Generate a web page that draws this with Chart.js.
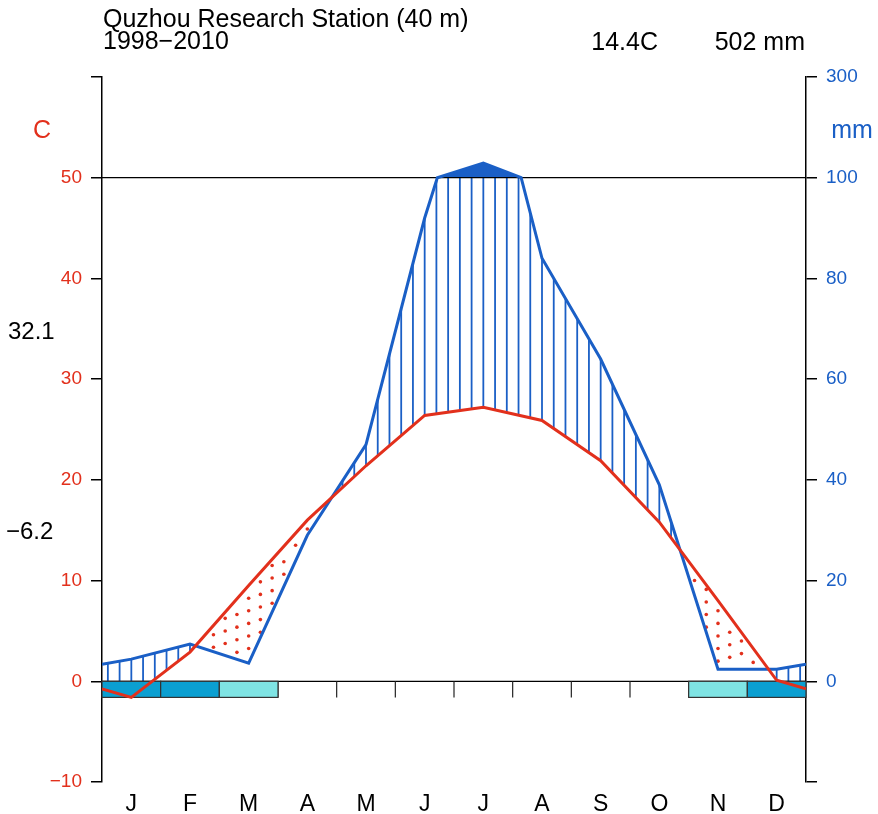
<!DOCTYPE html>
<html>
<head>
  <meta charset="utf-8">
  <title>Quzhou climate diagram</title>
  <script src="https://cdn.jsdelivr.net/npm/chart.js"></script>
  <style>
    body { margin: 0; background: #fff; }
    canvas { display: block; }
  </style>
</head>
<body>
<canvas id="climChart" width="878" height="814"></canvas>

<script>
// monthly values
const months = ['J', 'F', 'M', 'A', 'M', 'J', 'J', 'A', 'S', 'O', 'N', 'D'];
const temp = [-1.6, 2.9, 9.5, 16.0, 21.4, 26.4, 27.2, 25.9, 21.9, 15.8, 8.0, 0.1];
const prec = [4.4, 7.4, 3.6, 29, 47, 92, 129, 84, 64, 39, 2.4, 2.4];
// 2 = sure frost, 1 = probable frost
const frost = [2, 2, 1, 0, 0, 0, 0, 0, 0, 0, 1, 2];
const tempTicks = [-10, 0, 10, 20, 30, 40, 50, 60];
const precTicks = [-10, 0, 10, 20, 30, 40, 50, 60];

const RED = '#e2301c';
const BLUE = '#1a5fc6';
const FONT = '"Liberation Sans", Arial, sans-serif';

// precipitation -> temperature axis units (2 mm per C, above 100 mm 20 mm per C)
function tr(p) {
  return p <= 100 ? p / 2 : 50 + (p - 100) / 20;
}

// x positions: edges + month centres, edge value = mean of Dec and Jan
const xs = [0].concat(months.map((m, i) => i + 0.5), [12]);
const tEdge = (temp[0] + temp[11]) / 2;
const pEdge = (prec[0] + prec[11]) / 2;
const tVals = [tEdge].concat(temp, [tEdge]);
const pVals = [pEdge].concat(prec, [pEdge]);

function interp(vals, xv) {
  for (let i = 0; i < xs.length - 1; i++) {
    if (xv >= xs[i] && xv <= xs[i + 1]) {
      const f = (xv - xs[i]) / (xs[i + 1] - xs[i]);
      return vals[i] + f * (vals[i + 1] - vals[i]);
    }
  }
  return vals[vals.length - 1];
}

// blue line points, with the 100 mm crossings added
const precPts = [];
for (let i = 0; i < xs.length; i++) {
  precPts.push({ x: xs[i], mm: pVals[i] });
  if (i < xs.length - 1) {
    const a = pVals[i], b = pVals[i + 1];
    if ((a - 100) * (b - 100) < 0) {
      const f = (100 - a) / (b - a);
      precPts.push({ x: xs[i] + f * (xs[i + 1] - xs[i]), mm: 100 });
    }
  }
}

const climPlugin = {
  id: 'clim',
  beforeDatasetsDraw(chart) {
    const { ctx, chartArea: a, scales: { x, y } } = chart;
    const px = v => x.getPixelForValue(v);
    const py = v => y.getPixelForValue(v);
    ctx.save();

    // humid hatching
    ctx.strokeStyle = BLUE;
    ctx.lineWidth = 1.8;
    for (let k = 0; k < 60; k++) {
      const xv = 0.1 + k * 0.2;
      const t = interp(tVals, xv);
      const p = tr(interp(pVals, xv));
      if (p > t) {
        ctx.beginPath();
        ctx.moveTo(px(xv), py(t));
        ctx.lineTo(px(xv), py(Math.min(p, 50)));
        ctx.stroke();
      }
    }

    // solid fill above 100 mm
    const top = precPts.filter(q => q.mm >= 100);
    if (top.length > 1) {
      ctx.fillStyle = BLUE;
      ctx.beginPath();
      top.forEach((q, i) => {
        if (i === 0) ctx.moveTo(px(q.x), py(tr(q.mm)));
        else ctx.lineTo(px(q.x), py(tr(q.mm)));
      });
      ctx.closePath();
      ctx.fill();
    }

    // arid dots
    ctx.fillStyle = RED;
    for (let k = 0; k < 60; k++) {
      const xv = 0.1 + k * 0.2;
      const t = interp(tVals, xv);
      const p = tr(interp(pVals, xv));
      if (t <= p) continue;
      const off = (k * 0.375) % 1.25;
      for (let yv = -10 + off; yv < 60; yv += 1.25) {
        if (yv > p + 0.4 && yv < t - 0.4) {
          ctx.beginPath();
          ctx.arc(px(xv), py(yv), 1.8, 0, Math.PI * 2);
          ctx.fill();
        }
      }
    }

    // reference lines at 0 and 50
    ctx.strokeStyle = '#000';
    ctx.lineWidth = 1.2;
    [0, 50].forEach(v => {
      ctx.beginPath();
      ctx.moveTo(a.left, py(v));
      ctx.lineTo(a.right, py(v));
      ctx.stroke();
    });

    // month ticks on the zero line
    ctx.strokeStyle = '#222';
    for (let m = 1; m < 12; m++) {
      ctx.beginPath();
      ctx.moveTo(px(m), py(0));
      ctx.lineTo(px(m), py(-1.6));
      ctx.stroke();
    }

    // frost bars
    frost.forEach((f, i) => {
      if (!f) return;
      ctx.fillStyle = f === 2 ? '#0b9fd1' : '#7fe4e4';
      const x0 = px(i), x1 = px(i + 1), y0 = py(0), y1 = py(-1.6);
      ctx.fillRect(x0, y0, x1 - x0, y1 - y0);
      ctx.strokeStyle = '#333';
      ctx.lineWidth = 1.2;
      ctx.strokeRect(x0, y0, x1 - x0, y1 - y0);
    });
    ctx.restore();
  },
  afterDraw(chart) {
    const { ctx } = chart;
    ctx.save();
    ctx.fillStyle = '#000';
    ctx.textBaseline = 'alphabetic';
    ctx.font = '25px ' + FONT;
    ctx.textAlign = 'left';
    ctx.fillText('Quzhou Research Station (40 m)', 103, 27);
    ctx.fillText('1998\u22122010', 103, 49);
    ctx.textAlign = 'right';
    ctx.fillText('14.4C', 658, 50);
    ctx.fillText('502 mm', 805, 50);

    ctx.textAlign = 'center';
    ctx.fillStyle = RED;
    ctx.fillText('C', 42, 138);
    ctx.fillStyle = BLUE;
    ctx.fillText('mm', 852, 138);

    ctx.fillStyle = '#000';
    ctx.font = '24px ' + FONT;
    ctx.textAlign = 'left';
    ctx.fillText('32.1', 8, 339);
    ctx.fillText('\u22126.2', 6, 539);
    ctx.restore();
  }
};

const chart = new Chart(document.getElementById('climChart'), {
  type: 'line',
  data: {
    datasets: [
      {
        label: 'Temperature',
        data: xs.map((xv, i) => ({ x: xv, y: tVals[i] })),
        borderColor: RED,
        borderWidth: 3,
        pointRadius: 0,
        yAxisID: 'y',
        order: 1
      },
      {
        label: 'Precipitation',
        data: precPts.map(q => ({ x: q.x, y: tr(q.mm) })),
        borderColor: BLUE,
        borderWidth: 3,
        pointRadius: 0,
        yAxisID: 'y',
        order: 2
      }
    ]
  },
  options: {
    responsive: false,
    animation: false,
    layout: { padding: { top: 77, left: 0, right: 0, bottom: 0 } },
    plugins: {
      legend: { display: false },
      tooltip: { enabled: false }
    },
    scales: {
      x: {
        type: 'linear',
        min: 0,
        max: 12,
        grid: { display: false, drawTicks: false },
        border: { display: false },
        afterBuildTicks: s => { s.ticks = months.map((m, i) => ({ value: i + 0.5 })); },
        afterFit: s => { s.height = 32; },
        ticks: {
          autoSkip: false,
          maxRotation: 0,
          padding: 9,
          color: '#000',
          font: { family: FONT, size: 23 },
          callback: (v, i) => months[i]
        }
      },
      y: {
        position: 'left',
        min: -10,
        max: 60,
        afterBuildTicks: s => { s.ticks = tempTicks.map(v => ({ value: v })); },
        afterFit: s => { s.width = 102; },
        grid: { drawOnChartArea: false, drawTicks: true, tickLength: 11, color: '#000', lineWidth: 1.5 },
        border: { display: true, color: '#000', width: 1.5 },
        ticks: {
          padding: 9,
          color: RED,
          font: { family: FONT, size: 19 },
          callback: v => v === 60 ? '' : String(v).replace('-', '\u2212')
        }
      },
      y2: {
        position: 'right',
        min: -10,
        max: 60,
        afterBuildTicks: s => { s.ticks = precTicks.map(v => ({ value: v })); },
        afterFit: s => { s.width = 72; },
        grid: { drawOnChartArea: false, drawTicks: true, tickLength: 11, color: '#000', lineWidth: 1.5 },
        border: { display: true, color: '#000', width: 1.5 },
        ticks: {
          padding: 9,
          color: BLUE,
          font: { family: FONT, size: 19 },
          callback: v => v < 0 ? '' : (v <= 50 ? String(v * 2) : '300')
        }
      }
    }
  },
  plugins: [climPlugin]
});
</script>
</body>
</html>
